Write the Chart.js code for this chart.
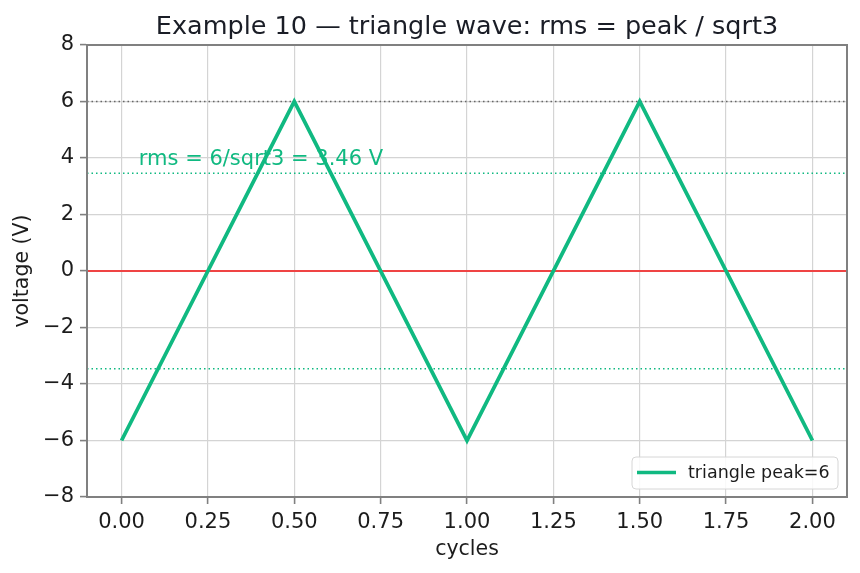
<!DOCTYPE html>
<html>
<head>
<meta charset="utf-8">
<script src="https://cdn.jsdelivr.net/npm/chart.js@4.4.1/dist/chart.umd.min.js"></script>
<style>
  html, body { margin: 0; padding: 0; background: #fff; }
  canvas { display: block; }
</style>
</head>
<body>
<canvas id="waveChart" width="860" height="573"></canvas>
<script>
// data
const cycles = [0, 0.5, 1, 1.5, 2];
const voltage = [-6, 6, -6, 6, -6];
const peak = 6;
const rms = 3.46;
const xRange = [-0.1, 2.1];
const yRange = [-8, 8];
const xTicks = [0, 0.25, 0.5, 0.75, 1, 1.25, 1.5, 1.75, 2];
const yTicks = [-8, -6, -4, -2, 0, 2, 4, 6, 8];
const titleText = 'Example 10 — triangle wave: rms = peak / sqrt3';
const seriesLabel = 'triangle peak=6';
const noteText = 'rms = 6/sqrt3 = 3.46 V';
const notePos = { x: 0.05, y: 3.76 };

const GREEN = '#10b981';
const RED = '#ef4444';
const FONT = '"DejaVu Sans", sans-serif';
const TEXT = '#1c1c1c';

function hline(y) {
    return xRange.map(x => ({ x, y }));
}

const extras = {
    id: 'extras',
    afterDraw(chart) {
        const { ctx, chartArea: a, scales } = chart;
        ctx.save();
        // frame top/right
        ctx.strokeStyle = '#808080';
        ctx.lineWidth = 2;
        ctx.strokeRect(a.left, a.top, a.right - a.left, a.bottom - a.top);

        // title
        ctx.fillStyle = '#1a1d26';
        ctx.font = '25.5px ' + FONT;
        ctx.textAlign = 'center';
        ctx.textBaseline = 'alphabetic';
        ctx.fillText(titleText, (a.left + a.right) / 2, 34);

        // note
        ctx.fillStyle = GREEN;
        ctx.font = '21px ' + FONT;
        ctx.textAlign = 'left';
        ctx.fillText(noteText, scales.x.getPixelForValue(notePos.x), scales.y.getPixelForValue(notePos.y));

        // legend
        const bx = 632, by = 457, bw = 206, bh = 32;
        ctx.beginPath();
        ctx.roundRect(bx, by, bw, bh, 4);
        ctx.fillStyle = 'rgba(255,255,255,0.85)';
        ctx.fill();
        ctx.strokeStyle = '#d6d6d6';
        ctx.lineWidth = 1;
        ctx.stroke();
        ctx.beginPath();
        ctx.moveTo(bx + 5, by + 15.5);
        ctx.lineTo(bx + 44, by + 15.5);
        ctx.strokeStyle = GREEN;
        ctx.lineWidth = 3.5;
        ctx.stroke();
        ctx.fillStyle = TEXT;
        ctx.font = '17.5px ' + FONT;
        ctx.textBaseline = 'middle';
        ctx.fillText(seriesLabel, bx + 56, by + 16);
        ctx.restore();
    }
};

new Chart(document.getElementById('waveChart'), {
    type: 'scatter',
    data: {
        datasets: [
            { data: cycles.map((x, i) => ({ x, y: voltage[i] })), borderColor: GREEN, borderWidth: 3.8, showLine: true, pointRadius: 0 },
            { data: hline(0), borderColor: RED, borderWidth: 1.8, showLine: true, pointRadius: 0 },
            { data: hline(rms), borderColor: GREEN, borderWidth: 1.5, borderDash: [1.5, 3], showLine: true, pointRadius: 0 },
            { data: hline(-rms), borderColor: GREEN, borderWidth: 1.5, borderDash: [1.5, 3], showLine: true, pointRadius: 0 },
            { data: hline(peak), borderColor: '#666', borderWidth: 1.5, borderDash: [1.5, 3], showLine: true, pointRadius: 0 }
        ]
    },
    options: {
        responsive: false,
        animation: false,
        layout: { padding: { top: 45, right: 13, left: 0, bottom: 0 } },
        plugins: {
            legend: { display: false },
            title: { display: false },
            tooltip: { enabled: false }
        },
        scales: {
            x: {
                type: 'linear',
                min: xRange[0],
                max: xRange[1],
                afterBuildTicks: s => { s.ticks = xTicks.map(v => ({ value: v })); },
                afterFit: s => { s.height = 76; },
                grid: { color: '#d4d4d4', lineWidth: 1.2, tickColor: '#808080', tickLength: 7, tickWidth: 1.6 },
                border: { color: '#808080', width: 2 },
                ticks: { color: TEXT, font: { family: FONT, size: 21 }, padding: 6, maxRotation: 0, callback: v => v.toFixed(2) },
                title: { display: true, text: 'cycles', color: TEXT, font: { family: FONT, size: 20.5 }, padding: { top: 0, bottom: 11 } }
            },
            y: {
                min: yRange[0],
                max: yRange[1],
                afterBuildTicks: s => { s.ticks = yTicks.map(v => ({ value: v })); },
                afterFit: s => { s.width = 87; },
                grid: { color: '#d4d4d4', lineWidth: 1.2, tickColor: '#808080', tickLength: 7, tickWidth: 1.6 },
                border: { color: '#808080', width: 2 },
                ticks: { color: TEXT, font: { family: FONT, size: 21 }, padding: 6, callback: v => String(v).replace('-', '\u2212') },
                title: { display: true, text: 'voltage (V)', color: TEXT, font: { family: FONT, size: 20.5 }, padding: { top: 10, bottom: 0 } }
            }
        }
    },
    plugins: [extras]
});
</script>
</body>
</html>
